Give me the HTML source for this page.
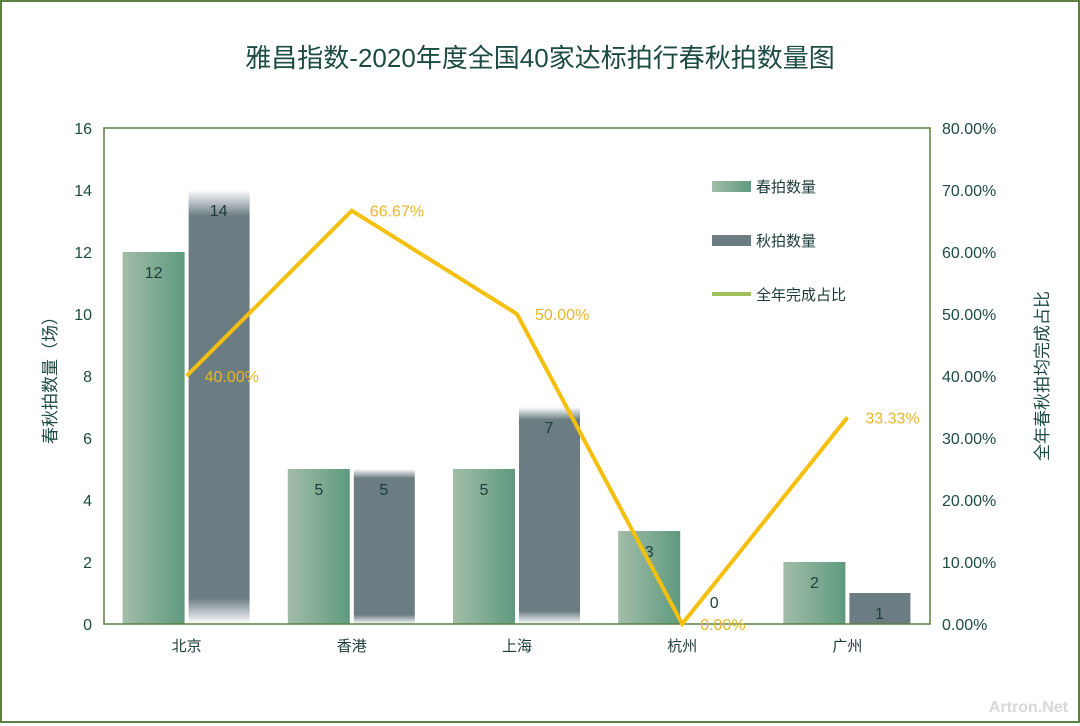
<!DOCTYPE html>
<html><head><meta charset="utf-8"><style>
body{margin:0;background:#fff;}
#wrap{width:1080px;height:723px;position:relative;box-sizing:border-box;border:2px solid #5b8040;background:#fff;font-family:"Liberation Sans","Noto Sans CJK SC",sans-serif;}
</style></head><body>
<div id="wrap">
<svg id="chart" width="1076" height="719" viewBox="2 2 1076 719" font-family="Liberation Sans, Noto Sans CJK SC, sans-serif">
<defs>
<linearGradient id="gS" x1="0" x2="1" y1="0" y2="0"><stop offset="0" stop-color="#a2bda8"/><stop offset="1" stop-color="#5e9a7f"/></linearGradient>
<linearGradient id="gA" x1="0" x2="0" y1="0" y2="1"><stop offset="0" stop-color="#fff"/><stop offset="0.06" stop-color="#6b7c83"/><stop offset="0.94" stop-color="#6b7c83"/><stop offset="1" stop-color="#fff"/></linearGradient>
</defs>
</svg>
</div>
<script>
const categories=["北京","香港","上海","杭州","广州"];
const springValues=[12,5,5,3,2];
const autumnValues=[14,5,7,0,1];
const ratioValues=[40.00,66.67,50.00,0.00,33.33];
const leftTicks=[0,2,4,6,8,10,12,14,16];
const rightTicks=["0.00%","10.00%","20.00%","30.00%","40.00%","50.00%","60.00%","70.00%","80.00%"];
const svg=document.getElementById('chart');const NS='http://www.w3.org/2000/svg';
function mk(t,a,p){const e=document.createElementNS(NS,t);for(const k in a)e.setAttribute(k,a[k]);(p||svg).appendChild(e);return e;}
const L=104,R=930,T=128,B=624;
const yL=v=>B-(v/16)*(B-T);const yR=v=>B-(v/80)*(B-T);
const band=(R-L)/categories.length;const cx=i=>L+band*i+band/2;
let t=mk('text',{x:540,y:67,'text-anchor':'middle','font-size':26,fill:'#1d4b44'});t.textContent='雅昌指数-2020年度全国40家达标拍行春秋拍数量图';

leftTicks.forEach(v=>{const e=mk('text',{x:92,y:yL(v)+6,'text-anchor':'end','font-size':16,fill:'#1d4b44'});e.textContent=v;});
rightTicks.forEach((s,i)=>{const e=mk('text',{x:942,y:yR(i*10)+6,'font-size':16,fill:'#1d4b44'});e.textContent=s;});
let ya=mk('text',{transform:'translate(56,376) rotate(-90)','text-anchor':'middle','font-size':17,fill:'#1d4b44'});ya.textContent='春秋拍数量（场）';
let yb=mk('text',{transform:'translate(1048,376) rotate(-90)','text-anchor':'middle','font-size':17,fill:'#1d4b44'});yb.textContent='全年春秋拍均完成占比';
categories.forEach((c,i)=>{
 const x=cx(i);
 const s=springValues[i],a=autumnValues[i];
 const r1=mk('rect',{x:x-64,y:yL(s),width:62,height:B-yL(s),fill:'url(#gS)'});
 const l1=mk('text',{x:x-33,y:yL(s)+26,'text-anchor':'middle','font-size':16,fill:'#1d3d3a'});l1.textContent=s;
 if(a>0){const r2=mk('rect',{x:x+2,y:yL(a),width:61,height:B-yL(a),fill:a>1?'url(#gA)':'#6b7c83'});}
 const l2=mk('text',{x:x+32,y:(a>0?yL(a)+26:yL(a)-16),'text-anchor':'middle','font-size':16,fill:'#1d3d3a'});l2.textContent=a;
 const cl=mk('text',{x:x,y:651,'text-anchor':'middle','font-size':15,fill:'#1d3d3a'});cl.textContent=c;
});
const fr=mk('rect',{x:L,y:T,width:R-L,height:B-T,fill:'none',stroke:'#5b8040','stroke-width':1.5});
const pts=ratioValues.map((v,i)=>cx(i)+','+yR(v)).join(' ');
const pl=mk('polyline',{points:pts,fill:'none',stroke:'#f5bf0e','stroke-width':4,'stroke-linejoin':'miter'});
ratioValues.forEach((v,i)=>{const e=mk('text',{x:cx(i)+18,y:yR(v)+6,'font-size':16,fill:'#e8b62a'});e.textContent=v.toFixed(2)+'%';});
const lg=[['春拍数量','url(#gS)',186],['秋拍数量','#6b7c83',240]];
lg.forEach(d=>{const r=mk('rect',{x:712,y:d[2]-5,width:39,height:11,fill:d[1]});
const e=mk('text',{x:756,y:d[2]+6,'font-size':15,fill:'#1d3d3a'});e.textContent=d[0];});
const ll=mk('line',{x1:712,x2:751,y1:294,y2:294,stroke:'#9fc05a','stroke-width':4});
const le=mk('text',{x:756,y:300,'font-size':15,fill:'#1d3d3a'});le.textContent='全年完成占比';
const wm=mk('text',{x:1068,y:712,'text-anchor':'end','font-size':16,fill:'#d8d8d8','font-weight':'bold'});wm.textContent='Artron.Net';
</script>
</body></html>
